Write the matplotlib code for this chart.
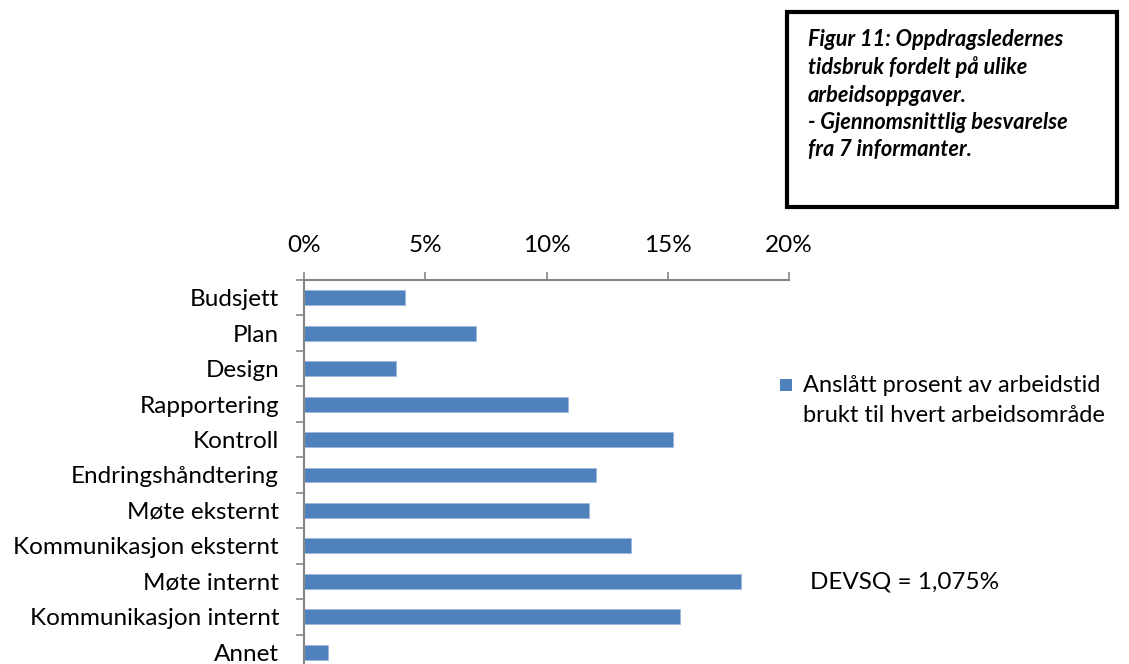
import matplotlib
matplotlib.use('Agg')
import matplotlib.pyplot as plt
from matplotlib.patches import Rectangle
from matplotlib.ticker import FuncFormatter

categories = ['Budsjett', 'Plan', 'Design', 'Rapportering', 'Kontroll',
              'Endringshåndtering', 'Møte eksternt', 'Kommunikasjon eksternt',
              'Møte internt', 'Kommunikasjon internt', 'Annet']
values = [4.15, 7.1, 3.8, 10.9, 15.2, 12.05, 11.75, 13.5, 18.0, 15.5, 1.0]
x_ticks = [0, 5, 10, 15, 20]

legend_label = 'Anslått prosent av arbeidstid\nbrukt til hvert arbeidsområde'
title_text = ('Figur 11: Oppdragsledernes\ntidsbruk fordelt på ulike\narbeidsoppgaver.\n'
              '- Gjennomsnittlig besvarelse\nfra 7 informanter.')
devsq_text = 'DEVSQ = 1,075%'

plt.rcParams['font.family'] = ['Lato', 'DejaVu Sans']
bar_color = '#4F81BD'
axis_color = '#868686'
fs = 17.5

W, H = 1129, 664
fig = plt.figure(figsize=(W / 100, H / 100), dpi=100)
ax = fig.add_axes([304 / W, -6 / H, 485 / W, 390 / H])

pos = list(range(len(categories)))
ax.barh(pos, values, height=0.42, color=bar_color, edgecolor='#9DB9DD', linewidth=0.6)

ax.set_xlim(0, 20)
ax.set_ylim(len(categories) - 0.5, -0.5)
ax.xaxis.tick_top()
ax.set_xticks(x_ticks)
ax.xaxis.set_major_formatter(FuncFormatter(lambda v, p: f'{v:.0f}%'))
ax.tick_params(axis='x', direction='out', length=6, width=1.2, color=axis_color,
               labelsize=fs, pad=11)

ax.set_yticks([i - 0.5 for i in range(len(categories) + 1)])
ax.set_yticklabels([])
ax.set_yticks(pos, minor=True)
ax.set_yticklabels(categories, minor=True)
ax.tick_params(axis='y', which='major', direction='out', length=6, width=1.2, color=axis_color)
ax.tick_params(axis='y', which='minor', length=0, labelsize=fs, pad=18)

for s in ['right', 'bottom']:
    ax.spines[s].set_visible(False)
for s in ['top', 'left']:
    ax.spines[s].set_color(axis_color)
    ax.spines[s].set_linewidth(1.5)

# legend: square key next to first line of the two-line label
fig.add_artist(Rectangle((780 / W, 1 - 391 / H), 12 / W, 12 / H,
                         transform=fig.transFigure, facecolor=bar_color,
                         edgecolor='none'))
fig.text(803 / W, 1 - 375 / H, legend_label, ha='left', va='top', fontsize=17,
         linespacing=1.55)

# title box
fig.add_artist(Rectangle((787 / W, 1 - 207 / H), 330 / W, 195 / H,
                         transform=fig.transFigure, fill=False,
                         edgecolor='black', linewidth=3))
fig.text(808 / W, 1 - 29 / H, title_text, ha='left', va='top', fontsize=15.7,
         fontweight='bold', fontstyle='italic', linespacing=1.36)

fig.text(810 / W, 1 - 582 / H, devsq_text, ha='left', va='center', fontsize=fs)

fig.savefig('out.png', dpi=100)
